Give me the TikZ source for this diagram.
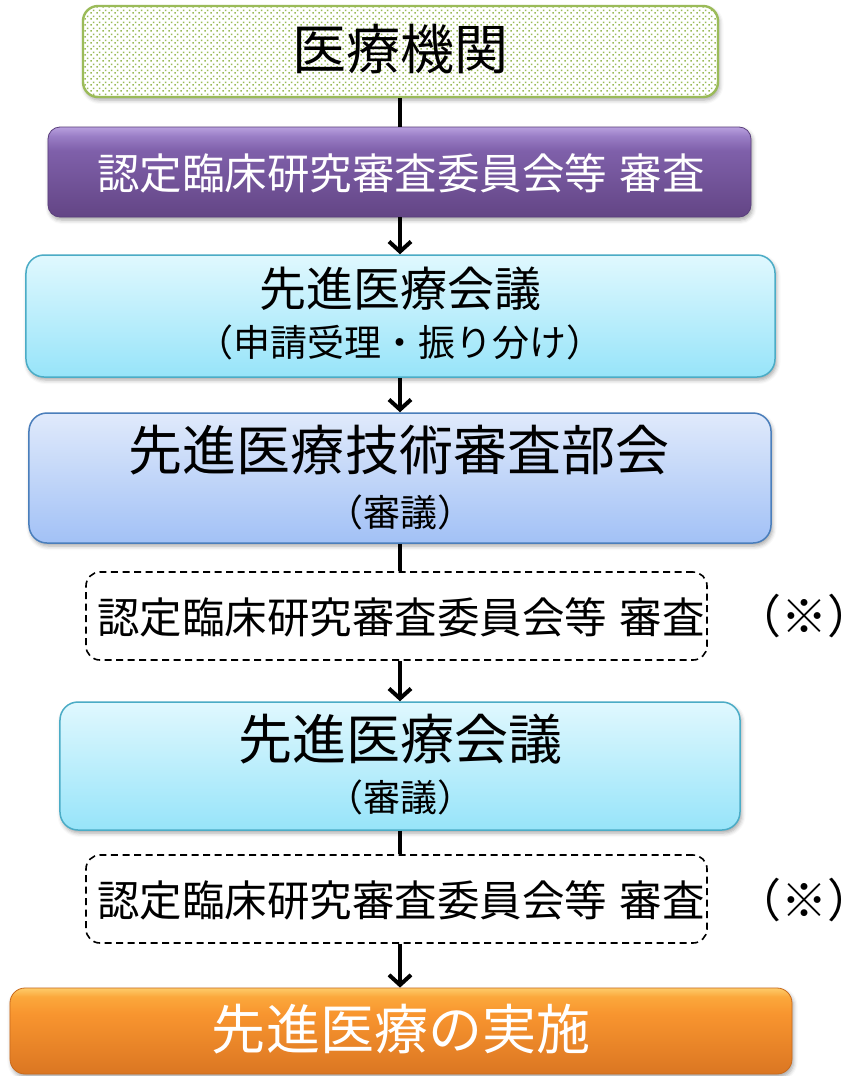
\documentclass[tikz,border=0pt]{standalone}
\usepackage{fontspec}
\newfontfamily\jp{Noto Sans CJK JP}
\usetikzlibrary{arrows.meta,shadows.blur,patterns.meta}
\definecolor{gline}{HTML}{9BBB59}
\definecolor{pbot}{HTML}{634585}
\definecolor{pmid}{HTML}{7F60AA}
\definecolor{phi}{HTML}{9A7EC6}
\definecolor{phitop}{HTML}{B8A0DE}
\definecolor{pline}{HTML}{5A3F7C}
\definecolor{obot}{HTML}{DB7622}
\definecolor{omid}{HTML}{F8952F}
\definecolor{ohi}{HTML}{FBA83C}
\definecolor{ohitop}{HTML}{FDCB6A}
\definecolor{oline}{HTML}{C96A1C}
\definecolor{ctop}{HTML}{E0F8FE}
\definecolor{cbot}{HTML}{97E4F9}
\definecolor{cline}{HTML}{4BACC6}
\definecolor{btop}{HTML}{E0EAFB}
\definecolor{bbot}{HTML}{A2C1F6}
\definecolor{bline}{HTML}{4A7EBB}
\pgfdeclareverticalshading{purpshade}{100bp}{color(0bp)=(pbot); color(25bp)=(pbot); color(62bp)=(pmid); color(70bp)=(phi); color(75bp)=(phitop); color(100bp)=(phitop)}
\pgfdeclareverticalshading{orgshade}{100bp}{color(0bp)=(obot); color(25bp)=(obot); color(60bp)=(omid); color(70bp)=(ohi); color(75bp)=(ohitop); color(100bp)=(ohitop)}
\tikzdeclarepattern{
  name=gdots,
  type=uncolored,
  bounding box={(0,0) and (6bp,6bp)},
  tile size={(6bp,6bp)},
  code={
    \pgfpathrectangle{\pgfpoint{0.4bp}{0.4bp}}{\pgfpoint{1.7bp}{1.7bp}}
    \pgfpathrectangle{\pgfpoint{3.4bp}{3.4bp}}{\pgfpoint{1.7bp}{1.7bp}}
    \pgfusepath{fill}
  }
}
\newcommand\jfs[1]{\jp\fontsize{#1bp}{#1bp}\selectfont}
\newcommand\shinsa{認定臨床研究審査委員会等\hspace{0.3em}審査}
\newcommand\kome{\kern-0.45em（※）\kern-0.62em\relax}
\tikzset{
  softshadow/.style={blur shadow={shadow xshift=1.5bp, shadow yshift=-3bp, shadow blur radius=4bp, shadow opacity=35}},
  gbox/.style={softshadow, preaction={fill=white}, pattern=gdots, pattern color=gline, draw=gline, line width=2.4bp, rounded corners=15bp, inner sep=0pt},
  pbox/.style={softshadow, shading=purpshade, draw=pline, line width=0.8bp, rounded corners=12bp, inner sep=0pt},
  cbox/.style={softshadow, top color=ctop, bottom color=cbot, draw=cline, line width=1.5bp, rounded corners=18bp, inner sep=0pt},
  bbox/.style={softshadow, top color=btop, bottom color=bbot, draw=bline, line width=1.5bp, rounded corners=18bp, inner sep=0pt},
  obox/.style={softshadow, shading=orgshade, draw=oline, line width=0.8bp, rounded corners=15bp, inner sep=0pt},
  dbox/.style={draw=black, dash pattern=on 7bp off 4.5bp, line width=1.6bp, rounded corners=14bp, inner sep=0pt},
  txt/.style={inner sep=0pt, text=black},
  wtxt/.style={inner sep=0pt, text=white},
  conn/.style={line width=4.5bp, draw=black},
  arr/.style={conn, -{Straight Barb[length=10bp,width=22bp,line width=4bp]}}
}
\begin{document}
\begin{tikzpicture}[x=1bp,y=-1bp]
\useasboundingbox (0,0) rectangle (846,1076);
% boxes
\node[gbox, minimum width=635bp, minimum height=91bp] (b1) at (400.5,51.5) {};
\node[pbox, minimum width=703bp, minimum height=90bp] (b2) at (399.5,172) {};
\node[cbox, minimum width=749bp, minimum height=122bp] (b3) at (400.5,316) {};
\node[bbox, minimum width=742bp, minimum height=130bp] (b4) at (400,478) {};
\node[dbox, minimum width=621bp, minimum height=88bp] (d1) at (396.5,616) {};
\node[cbox, minimum width=680bp, minimum height=128bp] (b6) at (400,766) {};
\node[dbox, minimum width=621bp, minimum height=88bp] (d2) at (396.5,899) {};
\node[obox, minimum width=782bp, minimum height=86bp] (b8) at (401,1031) {};
% texts
\node[txt, font=\jfs{54}] (t1) at (400,49) {医療機関};
\node[wtxt, font=\jfs{42.5}] (t2) at (401,173) {\shinsa};
\node[txt, font=\jfs{47}] (t3a) at (400,289) {先進医療会議};
\node[txt, font=\jfs{37}] (t3b) at (400,342) {（申請受理・振り分け）};
\node[txt, font=\jfs{54}] (t4a) at (399,450) {先進医療技術審査部会};
\node[txt, font=\jfs{37}] (t4b) at (400,512) {（審議）};
\node[txt, font=\jfs{42.5}] (t5) at (401,617) {\shinsa};
\node[txt, font=\jfs{46}, anchor=east] (n5) at (845,616) {\kome};
\node[txt, font=\jfs{54}] (t6a) at (400,739) {先進医療会議};
\node[txt, font=\jfs{37}] (t6b) at (400,797) {（審議）};
\node[txt, font=\jfs{42.5}] (t7) at (401,900) {\shinsa};
\node[txt, font=\jfs{46}, anchor=east] (n7) at (845,900) {\kome};
\node[wtxt, font=\jfs{54}] (t8) at (401,1029) {先進医療の実施};
% connectors
\draw[conn] (b1.south -| 400,0) -- (b2.north -| 400,0);
\draw[arr] (b2.south -| 400,0) -- (b3.north -| 400,0);
\draw[arr] (b3.south -| 400,0) -- (b4.north -| 400,0);
\draw[conn] (b4.south -| 400,0) -- (d1.north -| 400,0);
\draw[arr] (d1.south -| 400,0) -- (b6.north -| 400,0);
\draw[conn] (b6.south -| 400,0) -- (d2.north -| 400,0);
\draw[arr] (d2.south -| 400,0) -- (b8.north -| 400,0);
\end{tikzpicture}
\end{document}
